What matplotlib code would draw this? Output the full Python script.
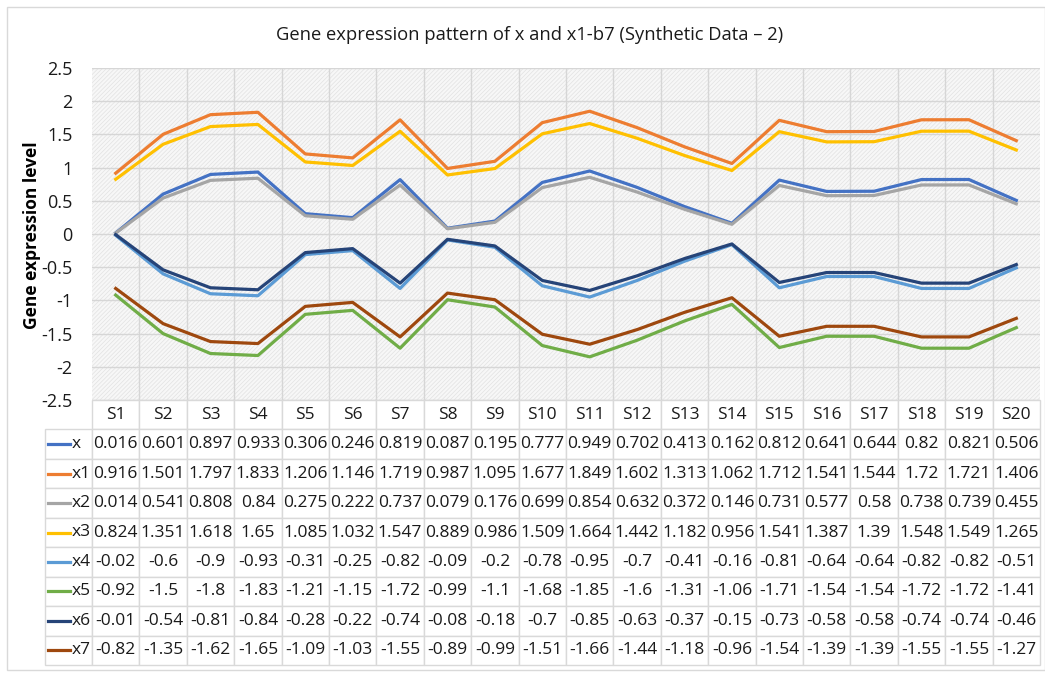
import matplotlib.pyplot as plt
from matplotlib.patches import Rectangle
from matplotlib.lines import Line2D

samples = [f'S{i}' for i in range(1, 21)]
names = ['x', 'x1', 'x2', 'x3', 'x4', 'x5', 'x6', 'x7']

x_vals = [0.016, 0.601, 0.897, 0.933, 0.306, 0.246, 0.819, 0.087, 0.195, 0.777,
          0.949, 0.702, 0.413, 0.162, 0.812, 0.641, 0.644, 0.82, 0.821, 0.506]
x1_vals = [0.916, 1.501, 1.797, 1.833, 1.206, 1.146, 1.719, 0.987, 1.095, 1.677,
           1.849, 1.602, 1.313, 1.062, 1.712, 1.541, 1.544, 1.72, 1.721, 1.406]
x2_vals = [0.014, 0.541, 0.808, 0.84, 0.275, 0.222, 0.737, 0.079, 0.176, 0.699,
           0.854, 0.632, 0.372, 0.146, 0.731, 0.577, 0.58, 0.738, 0.739, 0.455]
x3_vals = [0.824, 1.351, 1.618, 1.65, 1.085, 1.032, 1.547, 0.889, 0.986, 1.509,
           1.664, 1.442, 1.182, 0.956, 1.541, 1.387, 1.39, 1.548, 1.549, 1.265]
x4_vals = [-0.02, -0.6, -0.9, -0.93, -0.31, -0.25, -0.82, -0.09, -0.2, -0.78,
           -0.95, -0.7, -0.41, -0.16, -0.81, -0.64, -0.64, -0.82, -0.82, -0.51]
x5_vals = [-0.92, -1.5, -1.8, -1.83, -1.21, -1.15, -1.72, -0.99, -1.1, -1.68,
           -1.85, -1.6, -1.31, -1.06, -1.71, -1.54, -1.54, -1.72, -1.72, -1.41]
x6_vals = [-0.01, -0.54, -0.81, -0.84, -0.28, -0.22, -0.74, -0.08, -0.18, -0.7,
           -0.85, -0.63, -0.37, -0.15, -0.73, -0.58, -0.58, -0.74, -0.74, -0.46]
x7_vals = [-0.82, -1.35, -1.62, -1.65, -1.09, -1.03, -1.55, -0.89, -0.99, -1.51,
           -1.66, -1.44, -1.18, -0.96, -1.54, -1.39, -1.39, -1.55, -1.55, -1.27]

series = [x_vals, x1_vals, x2_vals, x3_vals, x4_vals, x5_vals, x6_vals, x7_vals]
colors = ['#4472C4', '#ED7D31', '#A5A5A5', '#FFC000',
          '#5B9BD5', '#70AD47', '#264478', '#9E480E']

plt.rcParams['font.family'] = ['Open Sans', 'DejaVu Sans']
plt.rcParams['hatch.linewidth'] = 0.5
plt.rcParams['hatch.color'] = '#e2e2e2'

W, H = 1045, 673
fig = plt.figure(figsize=(W / 100, H / 100), dpi=100)

# plot area in pixel terms
left, right, top, bottom = 92, 1040, 68, 400
ax = fig.add_axes([left / W, 1 - bottom / H, (right - left) / W, (bottom - top) / H])

# hatched background like the Excel pattern fill
ax.add_patch(Rectangle((0, 0), 1, 1, transform=ax.transAxes, facecolor='#f7f7f7',
                       edgecolor='#e2e2e2', hatch='////////', linewidth=0, zorder=0))
ax.set_facecolor('white')

pos = list(range(len(samples)))
for vals, c in zip(series, colors):
    ax.plot(pos, vals, color=c, linewidth=2.3, zorder=3, solid_joinstyle='round')

ax.set_xlim(-0.5, len(samples) - 0.5)
ax.set_ylim(-2.5, 2.5)
ax.set_yticks([-2.5, -2, -1.5, -1, -0.5, 0, 0.5, 1, 1.5, 2, 2.5])
ax.set_yticklabels(['-2.5', '-2', '-1.5', '-1', '-0.5', '0', '0.5', '1', '1.5', '2', '2.5'])
ax.set_xticks([p + 0.5 for p in pos[:-1]])
ax.set_xticklabels([])
ax.tick_params(axis='both', length=0, labelsize=13, colors='#1a1a1a', pad=14)
ax.grid(True, color='#d6d6d6', linewidth=1.0, zorder=1)
ax.set_axisbelow(True)
for s in ax.spines.values():
    s.set_visible(False)

# data table under the plot
tbl_left = (45 - left) / (right - left)
tbl_w = (right - 45) / (right - left)
tbl_h = (665 - bottom) / (bottom - top)
cell_text = [[''] + [str(v) for v in vals] for vals in series]
col_w = [47.0] + [(right - left) / len(samples)] * len(samples)
tot = sum(col_w)
tbl = ax.table(cellText=cell_text, colLabels=[''] + samples,
               colWidths=[w / tot for w in col_w], cellLoc='center',
               bbox=[tbl_left, -tbl_h, tbl_w, tbl_h])
tbl.auto_set_font_size(False)
tbl.set_fontsize(12.5)
for (r, c), cell in tbl.get_celld().items():
    cell.set_edgecolor('#d9d9d9')
    cell.set_linewidth(1.0)
    cell.PAD = 0.02
    cell.get_text().set_color('#1a1a1a')
    if r == 0 and c == 0:
        cell.visible_edges = ''

# legend keys and series names in the first column
nrows = len(series) + 1
for i, (name, c) in enumerate(zip(names, colors)):
    yc = -tbl_h + tbl_h * (1 - (i + 1.5) / nrows)
    kx0 = tbl_left + 3 / (right - left)
    kx1 = tbl_left + 25 / (right - left)
    ax.add_line(Line2D([kx0, kx1], [yc, yc], transform=ax.transAxes, color=c,
                       linewidth=2.3, clip_on=False))
    ax.text(kx1 + 1.5 / (right - left), yc, name, transform=ax.transAxes,
            ha='left', va='center', fontsize=12.5, color='#1a1a1a')

fig.text(530 / W, 1 - 35 / H, 'Gene expression pattern of x and x1-b7 (Synthetic Data \u2013 2)',
         ha='center', va='center', fontsize=13.2, color='#1a1a1a')
fig.text(32 / W, 1 - 235 / H, 'Gene expression level', rotation=90, ha='center',
         va='center', fontsize=12.5, fontweight='bold', color='#000000')

# outer chart border
fig.add_artist(Rectangle((7 / W, 3 / H), 1 - 7 / W, 1 - 10 / H, transform=fig.transFigure,
                         facecolor='none', edgecolor='#d9d9d9', linewidth=1.0))

fig.savefig('out.png', dpi=100)
